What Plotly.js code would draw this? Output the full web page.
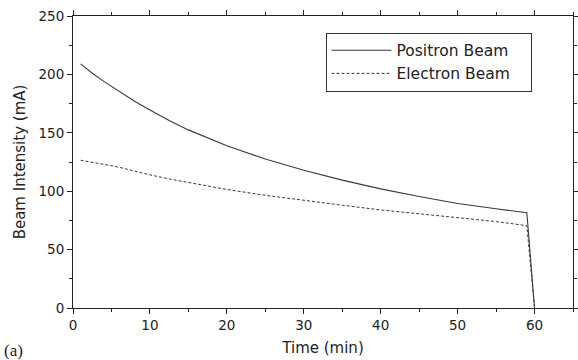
<!DOCTYPE html>
<html>
<head>
<meta charset="utf-8">
<script src="https://cdn.plot.ly/plotly-3.0.1.min.js"></script>
<style>html,body{margin:0;padding:0;background:#fff;}#chart{width:578px;height:360px;}</style>
</head>
<body>
<div id="chart"></div>
<script>
const timeMin = [1, 2.5, 4, 6, 8, 10, 12.5, 15, 17.5, 20, 25, 30, 35, 40, 45, 50, 55, 59, 60];
const positronBeam = [209, 201, 194, 185.5, 177, 169.5, 160.5, 152.5, 145.5, 139, 127.5, 118, 109.5, 102, 95.5, 89.5, 85, 81.5, 0];
const electronBeam = [126.5, 125, 123, 120.5, 117, 114, 110.5, 107.5, 104.5, 101.5, 96.5, 92, 88, 84, 80.5, 77.5, 74, 70.5, 0];
const seriesNames = ['Positron Beam', 'Electron Beam'];

const font = 'DejaVu Sans, Arial, sans-serif';
const traces = [
  {x: timeMin, y: positronBeam, name: seriesNames[0] + '\u00a0\u00a0\u00a0', mode: 'lines',
   line: {color: '#3a3a3a', width: 1.1, dash: 'solid'}},
  {x: timeMin, y: electronBeam, name: seriesNames[1] + '\u00a0\u00a0\u00a0', mode: 'lines',
   line: {color: '#3a3a3a', width: 1, dash: '3px,2px'}}
];
const axisCommon = {
  showgrid: false, zeroline: false, showline: true, linecolor: '#222', linewidth: 1,
  ticks: 'outside', ticklen: 5, tickcolor: '#222', mirror: 'ticks',
  tickfont: {family: font, size: 13.5, color: '#222'}
};
const layout = {
  width: 578, height: 360,
  margin: {l: 73, r: 5, t: 16, b: 52},
  paper_bgcolor: '#fff', plot_bgcolor: '#fff',
  showlegend: true,
  legend: {x: 0.505, y: 0.943, xanchor: 'left', yanchor: 'top',
    bordercolor: '#333', borderwidth: 1, bgcolor: '#fff', itemwidth: 60,
    font: {family: font, size: 15.5, color: '#222'}, tracegroupgap: 0},
  xaxis: Object.assign({}, axisCommon, {
    range: [0, 65], dtick: 10, tick0: 0,
    minor: {ticks: 'outside', ticklen: 3, tickcolor: '#222', dtick: 5},
    title: {text: 'Time (min)', font: {family: font, size: 15, color: '#222'}, standoff: 10}
  }),
  yaxis: Object.assign({}, axisCommon, {
    range: [0, 250], dtick: 50, tick0: 0,
    minor: {ticks: 'outside', ticklen: 3, tickcolor: '#222', dtick: 25},
    title: {text: 'Beam Intensity (mA)', font: {family: font, size: 15, color: '#222'}, standoff: 9}
  }),
  annotations: [
    {text: '(a)', xref: 'paper', yref: 'paper', x: -0.12, y: -0.145, xanchor: 'center', yanchor: 'middle',
     showarrow: false, font: {family: 'Liberation Serif, Times New Roman, serif', size: 17, color: '#222'}}
  ]
};
Plotly.newPlot('chart', traces, layout, {displayModeBar: false, staticPlot: true});
</script>
</body>
</html>
